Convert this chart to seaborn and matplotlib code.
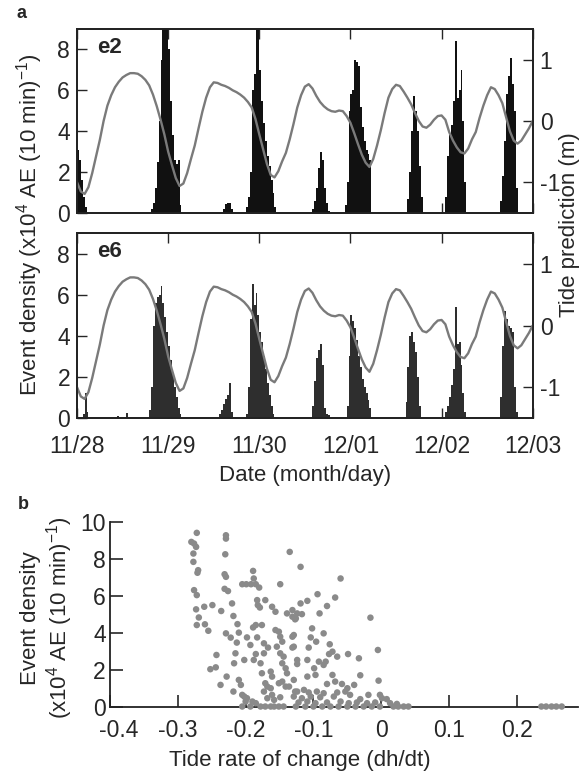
import numpy as np
import pandas as pd
import matplotlib
matplotlib.use("Agg")
import matplotlib.pyplot as plt
from matplotlib.transforms import ScaledTranslation
import seaborn as sns

# ---------------- data ----------------
# time axis: hours since 11/28 00:00, half-hour bins
DAY_LABELS = ["11/28", "11/29", "11/30", "12/01", "12/02", "12/03"]

# tide prediction (m), hourly from 11/28 00:00 to 12/03 00:00
TIDE_HOURS = list(range(0, 121))
TIDE_M = [-1.00, -1.15, -1.19, -1.08, -0.85, -0.58, -0.31, 0.00, 0.25, 0.42,
          0.55, 0.64, 0.71, 0.75, 0.78, 0.78, 0.77, 0.73, 0.67, 0.58,
          0.43, 0.24, 0.02, -0.22, -0.50, -0.72, -0.93, -1.06, -1.02, -0.85,
          -0.62, -0.40, -0.12, 0.15, 0.38, 0.55, 0.63, 0.62, 0.59, 0.57,
          0.54, 0.50, 0.47, 0.43, 0.38, 0.31, 0.22, 0.03, -0.22, -0.46,
          -0.70, -0.88, -0.92, -0.82, -0.66, -0.52, -0.30, -0.05, 0.22, 0.42,
          0.56, 0.60, 0.53, 0.41, 0.31, 0.24, 0.19, 0.16, 0.15, 0.17,
          0.16, 0.08, -0.03, -0.20, -0.38, -0.55, -0.68, -0.75, -0.62, -0.40,
          -0.15, 0.13, 0.38, 0.52, 0.59, 0.57, 0.48, 0.38, 0.27, 0.13,
          0.00, -0.09, -0.11, -0.06, 0.02, 0.08, 0.09, 0.02, -0.18, -0.32,
          -0.43, -0.51, -0.53, -0.45, -0.30, -0.18, 0.05, 0.25, 0.42, 0.55,
          0.52, 0.42, 0.29, 0.06, -0.17, -0.32, -0.37, -0.32, -0.22, -0.12,
          0.00]

# event-density bursts: start hour, and half-hour values (x10^4 AE per 10 min)
E2_START_H = [0.0, 19.5, 38.5, 44.5, 62.0, 70.5, 87.0, 97.0, 111.5]
E2_VALUES = [
    [3.1, 2.6, 1.6, 0.8, 0.3],
    [0.2, 0.5, 1.2, 2.5, 4.5, 7.5, 9.6, 9.6, 9.5, 8.0, 5.5, 3.8, 2.6, 2.4, 2.6, 0.4],
    [0.2, 0.45, 0.5, 0.5, 0.2],
    [0.3, 0.8, 2.0, 6.0, 6.8, 9.6, 9.6, 7.0, 5.5, 4.4, 3.5, 2.8, 2.3, 1.6, 1.0, 0.3],
    [0.2, 0.6, 1.2, 2.2, 3.0, 2.6, 1.2, 0.5, 0.1],
    [0.4, 1.5, 5.0, 5.8, 6.0, 7.5, 7.4, 7.2, 5.2, 4.2, 3.5, 3.1, 2.9, 2.6],
    [0.7, 2.0, 4.0, 5.7, 5.0, 4.0, 2.3, 0.8],
    [0.8, 2.8, 3.8, 4.3, 5.5, 8.4, 5.6, 6.0, 7.0, 4.5, 1.5],
    [0.6, 1.8, 3.5, 5.8, 6.7, 7.6, 6.3, 5.0, 1.2],
]

E6_START_H = [1.5, 10.5, 13.0, 19.0, 37.5, 44.5, 62.0, 71.0, 86.5, 97.0, 111.5]
E6_VALUES = [
    [0.2, 1.2, 0.3],
    [0.1],
    [0.25],
    [0.4, 1.5, 4.5, 5.6, 5.9, 6.0, 6.4, 5.6, 4.9, 4.2, 3.5, 2.8, 2.2, 1.5, 1.0, 0.5, 0.2],
    [0.2, 0.4, 0.7, 0.95, 1.1, 1.7, 0.3],
    [0.2, 1.5, 4.8, 6.5, 5.5, 6.1, 5.0, 4.2, 3.7, 3.0, 2.4, 1.7, 1.1, 0.6, 0.2],
    [0.6, 1.8, 2.9, 3.3, 3.6, 2.6, 0.5, 0.2, 0.15],
    [0.6, 3.0, 5.0, 4.7, 4.4, 3.8, 3.0, 2.5, 1.9, 1.5, 1.2, 0.9, 0.5],
    [0.8, 2.5, 4.0, 4.2, 3.7, 3.2, 2.0, 0.6],
    [0.3, 0.6, 1.0, 1.6, 2.4, 5.4, 3.6, 3.7, 2.6, 1.2, 0.3],
    [1.0, 3.5, 5.2, 4.8, 4.5, 4.4, 4.2, 1.5, 0.3],
]

# panel b scatter: tide rate of change vs event density
SCAT_X = [-0.272, -0.280, -0.276, -0.273, -0.277, -0.277, -0.270, -0.271, -0.276, -0.272,
          -0.273, -0.269, -0.272, -0.261, -0.260, -0.255, -0.249, -0.243, -0.252, -0.244,
          -0.236, -0.229, -0.229, -0.230, -0.231, -0.229, -0.231, -0.226, -0.220, -0.218,
          -0.229, -0.222, -0.212, -0.210, -0.215, -0.213, -0.217, -0.228, -0.237, -0.218,
          -0.210, -0.207, -0.205, -0.202, -0.200, -0.198, -0.205, -0.193, -0.190, -0.185,
          -0.178, -0.171, -0.163, -0.158, -0.151, -0.144,
          -0.205, -0.199, -0.192, -0.189, -0.188, -0.185, -0.180, -0.183, -0.182, -0.179,
          -0.171, -0.161, -0.156, -0.149, -0.135, -0.189, -0.185, -0.176, -0.198, -0.183,
          -0.193, -0.173, -0.185, -0.173, -0.167, -0.202, -0.188, -0.178, -0.176, -0.163,
          -0.161, -0.171, -0.168, -0.163, -0.173, -0.161, -0.168, -0.158, -0.149, -0.156,
          -0.151, -0.149, -0.146, -0.154, -0.149, -0.144, -0.146, -0.141, -0.139, -0.146,
          -0.151, -0.141, -0.136, -0.131, -0.131, -0.139, -0.127, -0.129, -0.124, -0.127,
          -0.129, -0.124, -0.131,
          -0.119, -0.060, -0.094, -0.068, -0.119, -0.109, -0.080, -0.091, -0.117, -0.126,
          -0.016, -0.102, -0.085, -0.104, -0.129, -0.096, -0.076, -0.131, -0.107, -0.072,
          -0.077, -0.065, -0.049, -0.033, -0.005, -0.109, -0.092, -0.082, -0.085, -0.124,
          -0.099, -0.097, -0.109, -0.072, -0.031, -0.068, -0.080, -0.058, -0.040, -0.004,
          -0.050,
          -0.124, -0.114, -0.107, -0.095, -0.085, -0.065, -0.053, -0.129, -0.117, -0.104,
          -0.090, -0.070, -0.046, -0.031, -0.019, -0.002, 0.001, 0.008, -0.122, -0.109,
          -0.097, -0.080, -0.060, -0.048, -0.036, -0.021, -0.009, 0.013, -0.126, -0.112,
          -0.100, -0.087, -0.075, -0.063, -0.050, -0.038, -0.026, -0.014, -0.002, 0.018,
          0.025, 0.033, 0.040, 0.023, 0.236, 0.243, 0.251, 0.258, 0.266]
SCAT_Y = [9.40, 8.91, 8.82, 8.64, 8.28, 7.83, 7.38, 7.24, 6.30, 6.03,
          5.26, 4.82, 4.41, 5.40, 4.45, 4.10, 5.49, 2.79, 2.02, 2.12,
          5.17, 9.27, 9.09, 8.24, 7.16, 7.02, 6.37, 6.25, 5.58, 4.90,
          3.96, 3.73, 4.46, 4.00, 2.88, 3.46, 2.34, 1.62, 1.17, 0.81,
          1.44, 1.17, 0.63, 0.54, 0.27, 0.45, 0.00, 0.00, 0.27, 0.18,
          0.00, 0.00, 0.00, 0.00, 0.00, 0.00,
          6.62, 6.62, 6.62, 7.34, 6.93, 6.62, 6.44, 5.76, 5.49, 5.36,
          5.76, 5.40, 5.13, 6.62, 8.37, 4.28, 4.41, 4.41, 3.74, 3.74,
          3.33, 3.42, 2.84, 2.88, 3.19, 2.52, 2.52, 2.34, 1.80, 1.89,
          1.62, 1.26, 1.08, 0.99, 0.81, 0.63, 0.45, 0.36, 0.50, 4.14,
          4.05, 3.78, 3.51, 3.24, 2.88, 2.70, 2.34, 2.07, 1.80, 1.35,
          1.26, 1.08, 1.08, 3.78, 4.86, 5.04, 4.72, 3.24, 2.52, 0.81,
          1.44, 5.04, 5.22,
          7.56, 6.93, 6.08, 5.90, 5.58, 5.72, 5.44, 5.04, 5.00, 4.77,
          4.81, 4.23, 3.96, 3.74, 3.87, 3.51, 3.37, 3.19, 3.19, 2.97,
          2.84, 2.70, 2.84, 2.61, 3.06, 2.52, 2.43, 2.43, 2.25, 2.30,
          2.07, 1.71, 1.62, 1.71, 1.69, 1.35, 1.22, 1.22, 1.17, 1.40,
          0.99,
          0.81, 0.90, 0.76, 0.81, 0.72, 0.76, 0.81, 0.54, 0.45, 0.54,
          0.50, 0.54, 0.63, 0.40, 0.63, 0.63, 0.45, 0.40, 0.22, 0.27,
          0.18, 0.22, 0.27, 0.18, 0.22, 0.18, 0.22, 0.18, 0.00, 0.00,
          0.00, 0.00, 0.00, 0.00, 0.00, 0.00, 0.00, 0.00, 0.00, 0.00,
          0.00, 0.00, 0.00, 0.14, 0.00, 0.00, 0.00, 0.00, 0.00]

# ---------------- style ----------------
sns.set_style("ticks")
plt.rcParams["font.family"] = ["Liberation Sans", "DejaVu Sans"]
plt.rcParams["mathtext.fontset"] = "custom"
plt.rcParams["mathtext.rm"] = "Liberation Sans"
plt.rcParams["mathtext.it"] = "Liberation Sans"
plt.rcParams["mathtext.bf"] = "Liberation Sans:bold"
plt.rcParams["axes.unicode_minus"] = False

FS = 16
TFS = 16.5
TIDE_COLOR = "#7a7a7a"

fig = plt.figure(figsize=(5.88, 7.73), dpi=100)


def burst_frame(starts, values):
    xs, ws = [], []
    for s, vals in zip(starts, values):
        for i, v in enumerate(vals):
            xs.append(s + 0.25 + 0.5 * i)
            ws.append(v)
    return pd.DataFrame({"hour": xs, "density": ws})


tide_df = pd.DataFrame({"hour": TIDE_HOURS, "tide": TIDE_M})

panels = [
    ("e2", E2_START_H, E2_VALUES, "#111111", [0.131, 0.7245, 0.775, 0.238], False),
    ("e6", E6_START_H, E6_VALUES, "#2e2e2e", [0.131, 0.4592, 0.775, 0.2394], True),
]

for name, starts, values, col, rect, show_x in panels:
    ax = fig.add_axes(rect)
    df = burst_frame(starts, values)
    sns.histplot(data=df, x="hour", weights="density", bins=240, binrange=(0, 120),
                 ax=ax, element="step", fill=True, color=col, alpha=1, linewidth=0)
    ax.set_xlim(0, 120)
    ax.set_ylim(0, 9)
    ax.set_yticks([0, 2, 4, 6, 8])
    ax.set_xticks(np.arange(0, 121, 24))
    ax.set_ylabel("")
    ax.set_xlabel("")
    ax2 = ax.twinx()
    sns.lineplot(data=tide_df, x="hour", y="tide", ax=ax2, color=TIDE_COLOR,
                 linewidth=1.7)
    ax2.set_ylim(-1.5, 1.5)
    ax2.set_yticks([-1, 0, 1])
    ax2.set_yticklabels(["-1", "0", "1"])
    ax2.set_ylabel("")
    ax2.set_xlim(0, 120)
    if show_x:
        ax.set_xticklabels(DAY_LABELS)
    else:
        ax.set_xticklabels([])
    ax.tick_params(axis="both", direction="in", length=7, width=1.0,
                   labelsize=TFS, top=True, bottom=True, left=True, right=False,
                   pad=5)
    ax.tick_params(axis="x", pad=12)
    ax2.tick_params(axis="y", direction="in", length=7, width=1.0, labelsize=TFS,
                    right=True, left=False, pad=5)
    for a in (ax, ax2):
        for sp in a.spines.values():
            sp.set_linewidth(1.3)
            sp.set_color("#222222")
    ax.text(0.044, 0.90, name, transform=ax.transAxes, fontsize=FS,
            fontweight="bold", ha="left", va="center")

fig.text(0.051, 0.709, "Event density (x10$^4$ AE (10 min)$^{-1}$)", rotation=90,
         ha="center", va="center", fontsize=FS)
fig.text(0.968, 0.709, "Tide prediction (m)", rotation=90, ha="center",
         va="center", fontsize=FS)
fig.text(0.519, 0.3855, "Date (month/day)", ha="center", va="center", fontsize=FS)
fig.text(0.036, 0.982, "a", fontsize=13, fontweight="bold", ha="center", va="center")

# ---------------- panel b ----------------
axb = fig.add_axes([0.187, 0.086, 0.796, 0.239])
scat = pd.DataFrame({"rate": SCAT_X, "density": SCAT_Y})
sns.scatterplot(data=scat, x="rate", y="density", ax=axb, color="#8a8a8a",
                s=22, edgecolor="none", linewidth=0, clip_on=False, zorder=5)
axb.set_xlim(-0.4, 0.29)
axb.set_ylim(0, 10)
axb.set_xticks([-0.4, -0.3, -0.2, -0.1, 0, 0.1, 0.2])
axb.set_xticklabels(["-0.4", "-0.3", "-0.2", "-0.1", "0", "0.1", "0.2"])
axb.set_yticks([0, 2, 4, 6, 8, 10])
axb.set_xlabel("")
axb.set_ylabel("")
sns.despine(ax=axb)
for sp in axb.spines.values():
    sp.set_linewidth(1.3)
    sp.set_color("#222222")
axb.tick_params(axis="both", direction="in", length=9, width=1.2, labelsize=TFS)
axb.tick_params(axis="y", pad=3)
axb.tick_params(axis="x", pad=9)
first = axb.get_xticklabels()[0]
first.set_transform(first.get_transform() +
                    ScaledTranslation(6.5 / 72, 0, fig.dpi_scale_trans))
fig.text(0.081, 0.2005, "Event density\n(x10$^4$ AE (10 min)$^{-1}$)", rotation=90,
         ha="center", va="center", fontsize=FS, multialignment="center",
         linespacing=1.15)
fig.text(0.51, 0.0168, "Tide rate of change (dh/dt)", ha="center", va="center",
         fontsize=FS)
fig.text(0.04, 0.347, "b", fontsize=13, fontweight="bold", ha="center", va="center")

fig.savefig("out.png", dpi=100)
